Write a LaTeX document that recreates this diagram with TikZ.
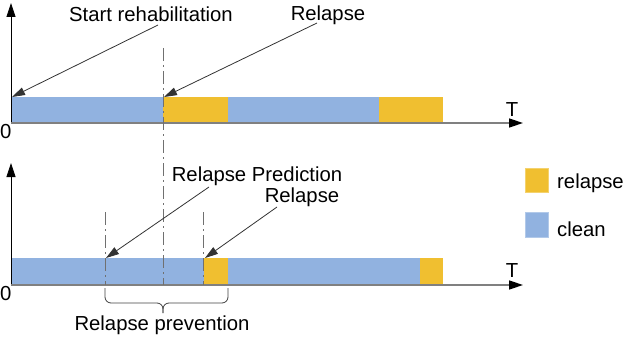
\documentclass[tikz,border=0pt]{standalone}
\usepackage{fontspec}
\setmainfont{Liberation Sans}
\usetikzlibrary{arrows.meta}
\definecolor{cleanblue}{HTML}{91B2E0}
\definecolor{relyellow}{HTML}{F0BF30}
\definecolor{axisgray}{HTML}{808080}
\definecolor{dashgray}{HTML}{707070}
\tikzset{
  txt/.style={inner sep=0pt, font=\fontsize{20.3}{24}\selectfont},
  cleanseg/.style={fill=cleanblue},
  relseg/.style={fill=relyellow},
  xaxis/.style={draw=axisgray, line width=1.6pt, -{Triangle[length=14pt,width=9pt,fill=black,color=black]}},
  yaxis/.style={draw=black, line width=0.8pt, -{Triangle[length=14pt,width=9pt]}},
  pointer/.style={draw=black!80, line width=0.8pt, -{Triangle[length=13pt,width=8pt]}},
  markline/.style={draw=dashgray, line width=0.9pt, dash pattern=on 13pt off 4pt on 2pt off 4pt},
  bracestyle/.style={draw=black!75, line width=0.8pt, rounded corners=6pt},
}
\begin{document}
\begin{tikzpicture}[x=1pt,y=-1pt]
\useasboundingbox (0,0) rectangle (627,337);
% ---------- top chart ----------
\fill[cleanseg] (12,97) rectangle (163,122);
\fill[relseg] (163,97) rectangle (228,122);
\fill[cleanseg] (228,97) rectangle (379,122);
\fill[relseg] (379,97) rectangle (443,122);
\coordinate (o1) at (11,123);
\coordinate (ytop1) at (11,3);
\coordinate (xend1) at (523,123);
\draw[yaxis] (o1) -- (ytop1);
\draw[xaxis] (o1) -- (xend1);
\node[txt] (zero1) at (5.8,132) {0};
\node[txt] (T1) at (512,110) {T};
% ---------- bottom chart ----------
\fill[cleanseg] (12,258) rectangle (204,284);
\fill[relseg] (204,258) rectangle (228,284);
\fill[cleanseg] (228,258) rectangle (420,284);
\fill[relseg] (420,258) rectangle (443,284);
\coordinate (o2) at (11,285);
\coordinate (ytop2) at (11,163);
\coordinate (xend2) at (523,285);
\draw[yaxis] (o2) -- (ytop2);
\draw[xaxis] (o2) -- (xend2);
\node[txt] (zero2) at (5.8,294) {0};
\node[txt] (T2) at (512,271) {T};
% ---------- marker lines ----------
\coordinate (m1a) at (163,48);
\coordinate (m1b) at (163,285);
\draw[markline] (m1a) -- (m1b);
\coordinate (m2a) at (105,212);
\coordinate (m2b) at (105,285);
\draw[markline] (m2a) -- (m2b);
\coordinate (m3a) at (203,212);
\coordinate (m3b) at (203,285);
\draw[markline] (m3a) -- (m3b);
% ---------- labels and pointers ----------
\node[txt] (start) at (151,14) {Start rehabilitation};
\node[txt] (rel1) at (328,15) {Relapse};
\node[txt] (pred) at (257,176) {Relapse Prediction};
\node[txt] (rel2) at (302,197) {Relapse};
\coordinate (sA) at (158,25);
\coordinate (sB) at (12,97);
\coordinate (rA) at (317,23);
\coordinate (rB) at (164,97);
\coordinate (pA) at (209,187);
\coordinate (pB) at (106,258);
\coordinate (qA) at (277,207);
\coordinate (qB) at (205,258);
\draw[pointer] (sA) -- (sB);
\draw[pointer] (rA) -- (rB);
\draw[pointer] (pA) -- (pB);
\draw[pointer] (qA) -- (qB);
% ---------- brace ----------
\coordinate (bL) at (105,288);
\coordinate (bR) at (228,288);
\coordinate (bM) at (163,303);
\coordinate (bTip) at (163,313);
\draw[bracestyle] (bL) |- (bM) -- (bTip);
\draw[bracestyle] (bR) |- (bM) -- (bTip);
\node[txt] (prev) at (162,325) {Relapse prevention};
% ---------- legend ----------
\node[relseg, draw=relyellow!70!white, minimum width=23pt, minimum height=24pt, inner sep=0pt] (legR) at (536.5,180) {};
\node[cleanseg, draw=cleanblue!70!white, minimum width=23pt, minimum height=25pt, inner sep=0pt] (legC) at (536.5,224.5) {};
\node[txt, anchor=west] (legRt) at (557,183) {relapse};
\node[txt, anchor=west] (legCt) at (557,229) {clean};
\end{tikzpicture}
\end{document}
